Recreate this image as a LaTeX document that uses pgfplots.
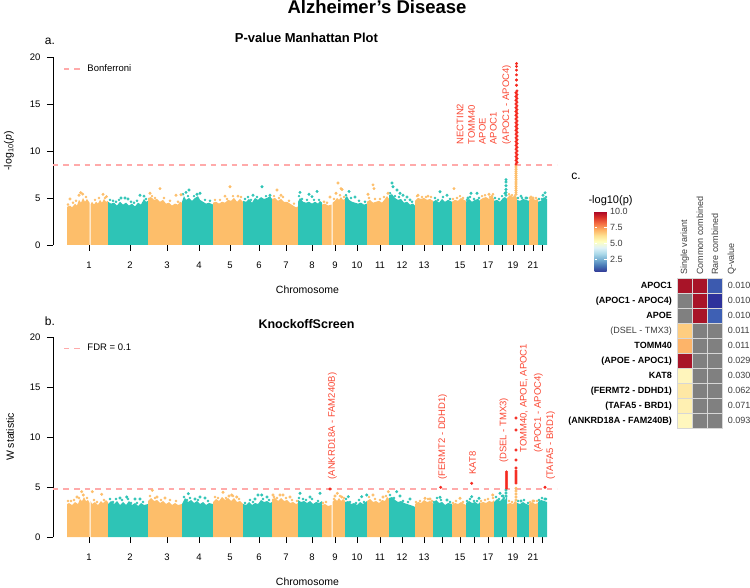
\documentclass[border=0pt]{standalone}
\usepackage{fontspec}
\setmainfont{Liberation Sans}
\usepackage{pgfplots}
\pgfplotsset{compat=1.18}
\definecolor{org}{RGB}{253,190,106}
\definecolor{tea}{RGB}{46,196,182}
\definecolor{sig}{RGB}{245,40,30}
\definecolor{labred}{RGB}{250,72,52}
\definecolor{thrc}{RGB}{255,170,170}
\definecolor{hr}{RGB}{168,20,40}
\definecolor{hbA}{RGB}{60,90,175}
\definecolor{hbB}{RGB}{46,50,155}
\definecolor{hbC}{RGB}{62,96,180}
\definecolor{hD}{RGB}{254,205,128}
\definecolor{hE}{RGB}{253,180,105}
\definecolor{hG}{RGB}{255,245,188}
\definecolor{hH}{RGB}{254,232,165}
\definecolor{hI}{RGB}{255,240,178}
\definecolor{hJ}{RGB}{255,247,190}
\definecolor{hgr}{RGB}{128,128,128}
\definecolor{cellb}{RGB}{215,215,215}
\definecolor{txg}{RGB}{60,60,60}
\newcommand{\fs}[1]{\fontsize{#1}{#1}\selectfont}
\newcommand{\hcell}[5]{\addplot[fill=#5, draw=cellb, line width=0.6pt] coordinates {(#1,#2) (#3,#2) (#3,#4) (#1,#4) (#1,#2)};}
\pgfplotsset{
 manh/.style={scale only axis, width=504pt, xmin=53, xmax=557, ymin=0, ymax=20,
  axis x line*=bottom, axis y line*=left, x axis line style={draw=none},
  y axis line style={black, line width=0.6pt},
  tick align=outside, major tick length=6pt, tick style={black, line width=0.6pt},
  xtick={89,130,167,199,230,259,286,312,335,357,380,402,424,442,460,474,488,502,513,524,533,542},
  xticklabels={1,2,3,4,5,6,7,8,9,10,11,12,13,,15,,17,,19,,21,},
  ytick={0,5,10,15,20},
  tick label style={font=\fs{9.5}},
  /pgf/number format/assume math mode=true,
  xticklabel style={yshift=-7pt}, yticklabel style={xshift=-3pt},
  clip=false,
  legend image code/.code={\draw[#1] (0pt,0pt) -- (17pt,0pt); \path (21pt,0pt);},
  legend style={draw=none, fill=none, font=\fs{9.5}, anchor=west, inner sep=0pt},
 },
 om/.style={only marks, mark=*, mark size=1.3pt, color=#1},
 fr/.style={only marks, mark=*, mark size=1.05pt, color=#1},
 thline/.style={draw=thrc, color=thrc, line width=1.3pt, dash pattern=on 5.5pt off 5pt},
}
\begin{document}
\begin{tikzpicture}[x=1pt,y=1pt]
\path[use as bounding box] (0,0) rectangle (750,587);
\node[anchor=base, font=\bfseries\fs{18.5}] at (377,573) {Alzheimer’s Disease};
\node[anchor=base, font=\bfseries\fs{13}] at (306.5,544.3) {P-value Manhattan Plot};
\node[anchor=base, font=\fs{12}] at (50,542) {a.};
\node[anchor=base, font=\bfseries\fs{12.5}] at (306.5,258.7) {KnockoffScreen};
\node[anchor=base, font=\fs{12}] at (50,261) {b.};
\node[anchor=base, font=\fs{12}] at (576,407) {c.};
\node[anchor=base, font=\fs{10.5}] at (307.5,293) {Chromosome};
\node[anchor=base, font=\fs{10.5}] at (307.5,1.5) {Chromosome};
\node[rotate=90, font=\fs{10.5}] at (9,436) {-log\textsubscript{10}(\textit{p})};
\node[rotate=90, font=\fs{10.5}] at (10,150) {W statistic};
\node[anchor=base west, font=\fs{11}] at (585,383) {-log10(p)};

% ---------------- panel a
\begin{axis}[manh, at={(53pt,342pt)}, anchor=south west, height=188pt,
  legend style={at={(axis cs:63,18.72)}}]
\addplot[thline] coordinates {(53,8.5) (557,8.5)};
\addlegendentry{Bonferroni}
\addplot[fill=org, draw=none] coordinates {(67,4.05) (70,4.2) (72,4.0) (75,4.4) (77,4.2) (79,4.8) (81,4.5) (83,5.0) (85,4.6) (87,4.9) (89.5,4.5)} \closedcycle;
\addplot[fill=org, draw=none] coordinates {(90.5,4.3) (92,4.6) (94,4.3) (96,4.6) (98,4.4) (100,4.8) (102,4.5) (104,4.9) (106,4.6) (108,4.7)} \closedcycle;
\addplot[fill=tea, draw=none] coordinates {(108,4.6) (111,4.4) (114,4.5) (117,4.2) (120,4.6) (123,4.3) (126,4.5) (129,4.2) (132,4.4) (135,4.1) (138,4.5) (141,4.3) (144,4.9) (146,4.6) (148,4.7)} \closedcycle;
\addplot[fill=org, draw=none] coordinates {(148,5.0) (151,5.1) (154,4.8) (157,4.9) (160,4.6) (163,4.8) (166,4.4) (169,4.5) (172,4.2) (175,4.4) (178,4.3) (180,4.6) (182,4.5)} \closedcycle;
\addplot[fill=tea, draw=none] coordinates {(182,4.6) (184,5.2) (186,4.8) (189,5.0) (192,4.7) (195,5.0) (198,5.2) (200,4.8) (203,4.6) (206,4.4) (209,4.5) (213,4.3)} \closedcycle;
\addplot[fill=org, draw=none] coordinates {(213,4.5) (216,4.6) (219,4.4) (222,4.6) (225,4.5) (228,4.8) (231,4.7) (234,5.0) (237,4.6) (240,4.9) (243,4.6)} \closedcycle;
\addplot[fill=tea, draw=none] coordinates {(243,4.7) (246,4.6) (249,4.9) (252,4.5) (255,5.0) (258,4.8) (261,5.1) (264,4.9) (267,5.0) (270,5.2) (272,4.9)} \closedcycle;
\addplot[fill=org, draw=none] coordinates {(272,4.9) (275,5.0) (278,4.7) (281,4.9) (284,4.6) (287,4.6) (290,4.4) (293,4.2) (296,4.0) (298,4.1)} \closedcycle;
\addplot[fill=tea, draw=none] coordinates {(298,4.6) (300,5.0) (303,4.6) (306,4.5) (309,4.6) (312,4.4) (315,4.6) (318,4.4) (320,4.7) (322,4.5)} \closedcycle;
\addplot[fill=org, draw=none] coordinates {(322,4.3) (325,4.4) (328,4.2) (331.5,4.3)} \closedcycle;
\addplot[fill=org, draw=none] coordinates {(332.5,4.5) (335,4.7) (337,5.0) (339,4.8) (341,5.1) (343,4.8) (345,4.9)} \closedcycle;
\addplot[fill=tea, draw=none] coordinates {(345,5.0) (347,5.2) (349,4.8) (352,4.6) (355,4.5) (358,4.4) (361,4.5) (364,4.3) (367,4.4)} \closedcycle;
\addplot[fill=org, draw=none] coordinates {(367,4.6) (370,4.8) (373,4.5) (376,4.6) (379,4.7) (382,4.5) (385,4.9) (387,5.2) (389,4.9)} \closedcycle;
\addplot[fill=tea, draw=none] coordinates {(389,5.3) (392,5.4) (395,5.0) (398,4.8) (401,4.9) (404,4.5) (407,4.6) (410,4.3) (413,4.4) (415,4.2)} \closedcycle;
\addplot[fill=org, draw=none] coordinates {(415,4.7) (418,5.0) (421,4.9) (424,5.0) (427,4.8) (430,4.9) (433,4.7)} \closedcycle;
\addplot[fill=tea, draw=none] coordinates {(433,4.6) (436,4.8) (439,4.5) (442,4.9) (445,4.6) (448,4.8) (452,4.6)} \closedcycle;
\addplot[fill=org, draw=none] coordinates {(452,4.6) (455,4.8) (458,4.7) (461,5.0) (464,4.8) (466,4.7)} \closedcycle;
\addplot[fill=tea, draw=none] coordinates {(466,4.6) (469,4.9) (472,4.6) (475,4.8) (478,4.9) (480,4.7)} \closedcycle;
\addplot[fill=org, draw=none] coordinates {(480,4.8) (483,5.0) (486,5.1) (489,4.9) (492,5.2) (494,4.9)} \closedcycle;
\addplot[fill=tea, draw=none] coordinates {(494,4.7) (497,4.8) (500,4.6) (503,5.0) (505,5.1) (507,4.9)} \closedcycle;
\addplot[fill=org, draw=none] coordinates {(507,5.0) (510,5.3) (513,5.1) (515,5.4) (517,5.0)} \closedcycle;
\addplot[fill=tea, draw=none] coordinates {(517,4.8) (520,4.7) (523,4.9) (526,4.8) (529,4.7)} \closedcycle;
\addplot[fill=org, draw=none] coordinates {(529,4.8) (532,5.0) (535,4.8) (538,4.9)} \closedcycle;
\addplot[fill=tea, draw=none] coordinates {(538,4.6) (541,4.7) (544,5.1) (547,4.9)} \closedcycle;
\addplot[fr=org] coordinates {(68,4.3) (73,4.5) (76,4.7) (86,5.1) (95,4.8) (99,5.0) (105,5.0)
 (152,5.2) (155,5.0) (164,5.0) (170,4.7) (178,4.6) (215,4.8) (220,4.8) (227,4.9) (233,5.2) (241,5.1)
 (274,5.2) (279,5.0) (283,5.1) (289,4.7) (294,4.4) (324,4.6) (327,4.5) (334,4.9) (340,5.3) (344,5.1)
 (369,5.0) (375,4.9) (380,4.9) (384,5.1) (417,5.2) (422,5.1) (426,5.1) (431,5.1)
 (453,4.9) (457,5.0) (460,5.2) (463,5.0) (482,5.2) (485,5.3) (490,5.1) (493,5.4)
 (509,5.4) (512,5.3) (530,5.0) (536,5.0)};
\addplot[fr=tea] coordinates {(110,4.8) (113,4.7) (116,4.6) (119,4.8) (131,4.6) (134,4.5) (137,4.7) (146,4.9)
 (183,5.4) (188,5.2) (194,5.2) (205,4.8) (210,4.7) (245,4.9) (248,5.1) (251,4.8) (257,5.1) (266,5.2)
 (299,5.2) (302,4.9) (307,4.8) (314,4.8) (319,4.8) (346,5.3) (351,5.0) (359,4.7) (365,4.6)
 (390,5.5) (395,5.2) (399,5.1) (405,4.8) (412,4.6) (435,5.0) (438,4.8) (443,5.1) (450,4.9)
 (467,4.8) (470,5.1) (474,4.9) (479,5.0) (495,5.0) (499,4.9) (502,5.2)
 (518,5.0) (522,5.0) (527,5.0) (539,4.9) (542,4.9) (546,5.1)};
\addplot[om=org] coordinates {(70,4.9) (79,5.3) (80.7,5.56) (82.7,5.42) (103,5.39) (106.5,5.15)
 (150,5.5) (160,6.0) (176,5.3) (181,5.35) (225,5.2) (230,6.2) (238,5.2) (277,5.85) (281,5.3)
 (330,5.1) (336,5.5) (338,6.6) (341,6.0) (342,5.9) (368,5.4) (373,6.4) (374,6.0) (388,5.5)
 (418,5.3) (428,5.2) (454,6.0) (489,5.4) (492,5.2)
 (516,5.4) (516,5.6) (516,5.8) (516,6.0) (516,6.2) (516,6.4) (516,6.6) (516,6.8) (516,7.0) (516,7.2)
 (516,7.4) (516,7.6) (516,7.8) (516,8.0) (516,8.2) (516,8.4) (531,5.1) (533,5.0)};
\addplot[om=tea] coordinates {(121,5.0) (125,5.0) (128,4.9) (140,5.3) (144,5.2)
 (186,5.6) (189,5.85) (197,5.4) (200,5.5) (253,5.3) (262,6.2) (270,5.3)
 (300,5.6) (309,5.4) (312,5.15) (317,5.7) (349,5.7) (355,5.1)
 (392,6.6) (393,6.2) (397,5.85) (400,5.5) (403,5.3) (407,5.1) (410,4.8)
 (440,5.67) (447,5.3) (468,5.0) (471,5.5) (477,5.5)
 (505,5.5) (506,5.3) (506,5.6) (506,5.9) (506,6.3) (506,6.7) (506,6.95)
 (521,5.2) (526,5.0) (543,5.3) (545,5.55)};
\addplot[om=sig] coordinates {(516,8.6) (516,9.0) (516,9.4) (516,9.8) (516,10.2) (516,10.6) (516,11.0) (516,11.4) (516,11.8) (516,12.2) (516,12.6) (516,13.0) (516,13.4) (516,13.8) (516,14.2) (516,14.6) (516,15.0) (516,15.4) (516,15.8) (516,16.2)
 (517,8.8) (517,9.2) (517,9.6) (517,10.0) (517,10.4) (517,10.8) (517,11.2) (517,11.6) (517,12.0) (517,12.4) (517,12.8) (517,13.2) (517,13.6) (517,14.0) (517,14.4) (517,14.8) (517,15.2) (517,15.6) (517,16.0) (517,16.4)
 (516.5,17.0) (516.5,17.55) (516.5,18.1) (516.5,18.6) (516.5,19.0) (516.5,19.3)};
\node[rotate=90, anchor=west, text=labred, font=\fs{9.5}] at (axis cs:460,10.32) {NECTIN2};
\node[rotate=90, anchor=west, text=labred, font=\fs{9.5}] at (axis cs:471.7,10.32) {TOMM40};
\node[rotate=90, anchor=west, text=labred, font=\fs{9.5}] at (axis cs:482.3,10.32) {APOE};
\node[rotate=90, anchor=west, text=labred, font=\fs{9.5}] at (axis cs:493.3,10.32) {APOC1};
\node[rotate=90, anchor=west, text=labred, font=\fs{9.5}] at (axis cs:506.7,10.32) {(APOC1 - APOC4)};
\end{axis}

% ---------------- panel b
\begin{axis}[manh, at={(53pt,50pt)}, anchor=south west, height=200pt,
  legend style={at={(axis cs:63,18.87)}}]
\addplot[thline] coordinates {(53,4.8) (557,4.8)};
\addlegendentry{FDR = 0.1}
\addplot[fill=org, draw=none] coordinates {(67,3.3) (69,3.4) (72,3.2) (75,3.5) (78,3.3) (80,3.8) (82,3.6) (84,4.0) (86,3.6) (88,3.7) (89.5,3.4)} \closedcycle;
\addplot[fill=org, draw=none] coordinates {(90.5,3.6) (92,3.3) (95,3.5) (98,3.2) (101,3.6) (103,3.4) (106,3.7) (108,3.5)} \closedcycle;
\addplot[fill=tea, draw=none] coordinates {(108,3.3) (111,3.6) (114,3.3) (117,3.6) (120,3.2) (123,3.5) (126,3.2) (129,3.6) (132,3.2) (135,3.4) (138,3.1) (141,3.4) (144,3.2) (148,3.3)} \closedcycle;
\addplot[fill=org, draw=none] coordinates {(148,3.6) (151,3.9) (154,3.6) (157,3.7) (160,3.4) (163,3.6) (166,3.3) (169,3.5) (172,3.2) (175,3.4) (178,3.2) (182,3.3)} \closedcycle;
\addplot[fill=tea, draw=none] coordinates {(182,3.3) (185,3.9) (188,3.5) (191,3.7) (194,3.4) (197,3.6) (200,3.3) (203,3.5) (206,3.2) (209,3.4) (213,3.3)} \closedcycle;
\addplot[fill=org, draw=none] coordinates {(213,3.5) (216,3.8) (219,3.6) (222,4.0) (225,3.7) (228,3.9) (231,3.6) (234,3.9) (237,3.5) (240,3.6) (243,3.3)} \closedcycle;
\addplot[fill=tea, draw=none] coordinates {(243,3.3) (246,3.2) (249,3.5) (252,3.2) (255,3.4) (258,3.3) (261,3.7) (264,3.5) (267,3.6) (270,3.4) (272,3.5)} \closedcycle;
\addplot[fill=org, draw=none] coordinates {(272,3.8) (275,3.9) (278,3.6) (281,3.9) (284,3.6) (287,3.7) (290,3.4) (293,3.5) (296,3.3) (298,3.4)} \closedcycle;
\addplot[fill=tea, draw=none] coordinates {(298,3.7) (301,3.5) (304,3.6) (307,3.4) (310,3.6) (313,3.3) (316,3.5) (319,3.4) (322,3.6)} \closedcycle;
\addplot[fill=org, draw=none] coordinates {(322,3.2) (325,3.3) (328,3.1) (331.5,3.2)} \closedcycle;
\addplot[fill=org, draw=none] coordinates {(332.5,3.5) (335,3.8) (337,3.6) (339,3.9) (341,3.6) (343,3.8) (345,3.6)} \closedcycle;
\addplot[fill=tea, draw=none] coordinates {(345,3.5) (348,3.6) (351,3.3) (354,3.4) (357,3.2) (360,3.5) (363,3.3) (367,3.6)} \closedcycle;
\addplot[fill=org, draw=none] coordinates {(367,3.6) (370,3.8) (373,3.5) (376,3.6) (379,3.4) (382,3.7) (385,3.6) (387,4.0) (389,3.8)} \closedcycle;
\addplot[fill=tea, draw=none] coordinates {(389,3.9) (392,4.0) (395,3.7) (398,3.5) (401,3.6) (404,3.4) (407,3.3) (410,3.2) (413,3.1) (415,3.0)} \closedcycle;
\addplot[fill=org, draw=none] coordinates {(415,3.3) (418,3.5) (421,3.4) (424,3.7) (427,3.5) (430,3.6) (433,3.4)} \closedcycle;
\addplot[fill=tea, draw=none] coordinates {(433,3.3) (436,3.7) (439,3.4) (442,3.5) (445,3.2) (448,3.4) (452,3.3)} \closedcycle;
\addplot[fill=org, draw=none] coordinates {(452,3.2) (455,3.4) (458,3.3) (461,3.5) (464,3.3) (466,3.2)} \closedcycle;
\addplot[fill=tea, draw=none] coordinates {(466,3.4) (469,3.6) (472,3.4) (475,3.5) (478,3.3) (480,3.5)} \closedcycle;
\addplot[fill=org, draw=none] coordinates {(480,3.4) (483,3.5) (486,3.4) (489,3.6) (492,3.5) (494,3.7)} \closedcycle;
\addplot[fill=tea, draw=none] coordinates {(494,3.5) (497,3.8) (500,3.6) (503,3.9) (505,3.7) (507,4.1)} \closedcycle;
\addplot[fill=org, draw=none] coordinates {(507,3.3) (510,3.4) (513,3.3) (515,3.6) (517,3.4)} \closedcycle;
\addplot[fill=tea, draw=none] coordinates {(517,3.4) (520,3.3) (523,3.5) (526,3.3) (529,3.2)} \closedcycle;
\addplot[fill=org, draw=none] coordinates {(529,3.3) (532,3.5) (535,3.3) (538,3.4)} \closedcycle;
\addplot[fill=tea, draw=none] coordinates {(538,3.5) (541,3.7) (544,3.6) (547,3.5)} \closedcycle;
\addplot[fr=org] coordinates {(68,3.6) (71,3.6) (74,3.7) (79,3.9) (87,3.9) (94,3.7) (97,3.5) (104,3.7)
 (150,4.1) (155,3.9) (161,3.7) (170,3.7) (176,3.6) (215,4.0) (218,3.9) (226,3.9) (233,4.1) (239,3.8)
 (274,4.0) (277,3.9) (286,3.9) (292,3.7) (297,3.6) (323,3.4) (326,3.5) (334,3.8) (340,4.1) (344,3.9)
 (369,4.0) (375,3.8) (380,3.7) (386,4.1) (416,3.5) (420,3.6) (428,3.8) (432,3.6)
 (453,3.4) (456,3.6) (463,3.5) (481,3.6) (485,3.7) (488,3.8) (493,3.9)
 (509,3.6) (512,3.5) (530,3.5) (534,3.6) (537,3.6)};
\addplot[fr=tea] coordinates {(110,3.8) (113,3.5) (116,3.8) (122,3.7) (128,3.8) (131,3.4) (137,3.4) (143,3.5)
 (184,4.0) (187,3.7) (190,3.9) (198,3.7) (208,3.6) (245,3.4) (250,3.7) (253,3.5) (263,3.8) (269,3.7)
 (299,3.9) (303,3.8) (306,3.7) (312,3.8) (318,3.6) (346,3.8) (350,3.5) (356,3.4) (359,3.7) (364,3.5)
 (390,4.2) (394,3.9) (403,3.6) (408,3.5) (434,3.5) (437,3.9) (441,3.7) (450,3.5)
 (467,3.6) (470,3.8) (474,3.6) (477,3.6) (496,4.0) (499,3.8) (502,4.1) (504,3.9)
 (518,3.6) (524,3.7) (528,3.4) (539,3.7) (542,3.9) (546,3.8)};
\addplot[om=org] coordinates {(77,4.0) (81.7,4.53) (83.3,4.2) (92.3,4.53) (101.7,4.27)
 (152.3,4.67) (157,4.0) (165,3.9) (223,4.47) (229,4.1) (231.7,4.2) (236.7,4.0)
 (273,4.2) (280,4.2) (283,4.2) (290,4.0) (335,4.1) (337.3,4.37) (341.7,4.0)
 (373,4.2) (383,4.0) (388.3,4.53) (425,3.87) (430,3.8) (460,3.87) (492.7,4.2)
 (516,3.7) (516,4.0) (516,4.3) (516,4.6) (516,4.87) (533,3.6)};
\addplot[om=tea] coordinates {(120,3.9) (126.7,4.0) (135,3.8) (140,3.8)
 (188.3,4.33) (195,3.8) (200,4.0) (205,3.9) (255,3.8) (258,4.2) (261.7,4.2) (267,4.0)
 (300,4.37) (310,4.0) (320,4.37) (348.3,4.03) (361.7,4.03) (366.7,4.2)
 (396.7,4.53) (400,4.1) (410,3.8) (440,3.97) (447,3.7) (471.7,4.03) (479,3.87)
 (500,4.37) (503,4.1) (506,4.1) (506,4.4) (506,4.7) (521,3.6) (545,3.8)};
\addplot[om=sig] coordinates {(330,4.8) (440.7,4.97) (471.7,5.37) (545,4.97)
 (506.5,4.9) (506.5,5.1) (506.5,5.3) (506.5,5.5) (506.5,5.7) (506.5,5.9) (506.5,6.1) (506.5,6.3) (506.5,6.5)
 (516,5.4) (516,5.6) (516,5.8) (516,6.0) (516,6.2) (516,6.4) (516,6.6) (516,6.9) (516,7.7) (516,8.7) (516,10.7) (516,11.9)};
\node[rotate=90, anchor=west, text=labred, font=\fs{9.5}] at (axis cs:332.3,5.4) {(ANKRD18A - FAM240B)};
\node[rotate=90, anchor=west, text=labred, font=\fs{9.5}] at (axis cs:442.7,5.4) {(FERMT2 - DDHD1)};
\node[rotate=90, anchor=west, text=labred, font=\fs{9.5}] at (axis cs:472.7,5.9) {KAT8};
\node[rotate=90, anchor=west, text=labred, font=\fs{9.5}] at (axis cs:504,7.07) {(DSEL - TMX3)};
\node[rotate=90, anchor=west, text=labred, font=\fs{9.5}] at (axis cs:524,8.1) {TOMM40, APOE, APOC1};
\node[rotate=90, anchor=west, text=labred, font=\fs{9.5}] at (axis cs:538.3,8.1) {(APOC1 - APOC4)};
\node[rotate=90, anchor=west, text=labred, font=\fs{9.5}] at (axis cs:550.7,5.4) {(TAFA5 - BRD1)};
\end{axis}

% ---------------- colorbar
\begin{axis}[at={(586pt,315pt)}, anchor=south west, scale only axis, width=12pt, height=61pt,
  hide axis, xmin=0, xmax=1, ymin=0, ymax=1,
  colormap={rdylbu}{rgb255=(49,54,149) rgb255=(69,117,180) rgb255=(116,173,209) rgb255=(171,217,233) rgb255=(224,243,248) rgb255=(255,255,191) rgb255=(254,224,144) rgb255=(253,174,97) rgb255=(244,109,67) rgb255=(215,48,39) rgb255=(165,0,38)},
  point meta min=0.6, point meta max=10.05,
  colorbar, colorbar/width=12pt,
  colorbar style={at={(parent axis.south west)}, anchor=south west, height=61pt,
    ytick={2.5,5,7.5,10}, axis line style={draw=none},
    tick align=inside, major tick length=2.5pt, tick style={white, line width=0.5pt},
    yticklabel style={font=\fs{9}, text=txg, /pgf/number format/fixed, /pgf/number format/fixed zerofill, /pgf/number format/precision=1},
    /pgf/number format/assume math mode=true}]
\addplot[draw=none] coordinates {(0.5,0.5)};
\end{axis}

% ---------------- heatmap
\begin{axis}[at={(677.3pt,158.7pt)}, anchor=south west, scale only axis, width=45pt, height=150pt,
  xmin=0, xmax=3, ymin=0, ymax=10, hide axis, clip=false]
\hcell{0}{9}{1}{10}{hr}\hcell{1}{9}{2}{10}{hr}\hcell{2}{9}{3}{10}{hbA}
\hcell{0}{8}{1}{9}{hgr}\hcell{1}{8}{2}{9}{hr}\hcell{2}{8}{3}{9}{hbB}
\hcell{0}{7}{1}{8}{hgr}\hcell{1}{7}{2}{8}{hr}\hcell{2}{7}{3}{8}{hbC}
\hcell{0}{6}{1}{7}{hD}\hcell{1}{6}{2}{7}{hgr}\hcell{2}{6}{3}{7}{hgr}
\hcell{0}{5}{1}{6}{hE}\hcell{1}{5}{2}{6}{hgr}\hcell{2}{5}{3}{6}{hgr}
\hcell{0}{4}{1}{5}{hr}\hcell{1}{4}{2}{5}{hgr}\hcell{2}{4}{3}{5}{hgr}
\hcell{0}{3}{1}{4}{hG}\hcell{1}{3}{2}{4}{hgr}\hcell{2}{3}{3}{4}{hgr}
\hcell{0}{2}{1}{3}{hH}\hcell{1}{2}{2}{3}{hgr}\hcell{2}{2}{3}{3}{hgr}
\hcell{0}{1}{1}{2}{hI}\hcell{1}{1}{2}{2}{hgr}\hcell{2}{1}{3}{2}{hgr}
\hcell{0}{0}{1}{1}{hJ}\hcell{1}{0}{2}{1}{hgr}\hcell{2}{0}{3}{1}{hgr}
\node[anchor=east, xshift=-2pt, font=\bfseries\fs{9}] at (axis cs:0,9.5) {APOC1};
\node[anchor=east, xshift=-2pt, font=\bfseries\fs{9}] at (axis cs:0,8.5) {(APOC1 - APOC4)};
\node[anchor=east, xshift=-2pt, font=\bfseries\fs{9}] at (axis cs:0,7.5) {APOE};
\node[anchor=east, xshift=-2pt, font=\fs{9}, text=txg] at (axis cs:0,6.5) {(DSEL - TMX3)};
\node[anchor=east, xshift=-2pt, font=\bfseries\fs{9}] at (axis cs:0,5.5) {TOMM40};
\node[anchor=east, xshift=-2pt, font=\bfseries\fs{9}] at (axis cs:0,4.5) {(APOE - APOC1)};
\node[anchor=east, xshift=-2pt, font=\bfseries\fs{9}] at (axis cs:0,3.5) {KAT8};
\node[anchor=east, xshift=-2pt, font=\bfseries\fs{9}] at (axis cs:0,2.5) {(FERMT2 - DDHD1)};
\node[anchor=east, xshift=-2pt, font=\bfseries\fs{9}] at (axis cs:0,1.5) {(TAFA5 - BRD1)};
\node[anchor=east, xshift=-2pt, font=\bfseries\fs{9}] at (axis cs:0,0.5) {(ANKRD18A - FAM240B)};
\node[anchor=west, xshift=2pt, font=\fs{9}, text=txg] at (axis cs:3,9.5) {0.010};
\node[anchor=west, xshift=2pt, font=\fs{9}, text=txg] at (axis cs:3,8.5) {0.010};
\node[anchor=west, xshift=2pt, font=\fs{9}, text=txg] at (axis cs:3,7.5) {0.010};
\node[anchor=west, xshift=2pt, font=\fs{9}, text=txg] at (axis cs:3,6.5) {0.011};
\node[anchor=west, xshift=2pt, font=\fs{9}, text=txg] at (axis cs:3,5.5) {0.011};
\node[anchor=west, xshift=2pt, font=\fs{9}, text=txg] at (axis cs:3,4.5) {0.029};
\node[anchor=west, xshift=2pt, font=\fs{9}, text=txg] at (axis cs:3,3.5) {0.030};
\node[anchor=west, xshift=2pt, font=\fs{9}, text=txg] at (axis cs:3,2.5) {0.062};
\node[anchor=west, xshift=2pt, font=\fs{9}, text=txg] at (axis cs:3,1.5) {0.071};
\node[anchor=west, xshift=2pt, font=\fs{9}, text=txg] at (axis cs:3,0.5) {0.093};
\node[rotate=90, anchor=west, font=\fs{9}, text=txg] at (axis cs:0.5,10) {Single variant};
\node[rotate=90, anchor=west, font=\fs{9}, text=txg] at (axis cs:1.5,10) {Common combined};
\node[rotate=90, anchor=west, font=\fs{9}, text=txg] at (axis cs:2.5,10) {Rare combined};
\node[xshift=9.5pt, rotate=90, anchor=west, font=\fs{9}, text=txg] at (axis cs:3,10) {Q-value};
\end{axis}
\end{tikzpicture}
\end{document}
